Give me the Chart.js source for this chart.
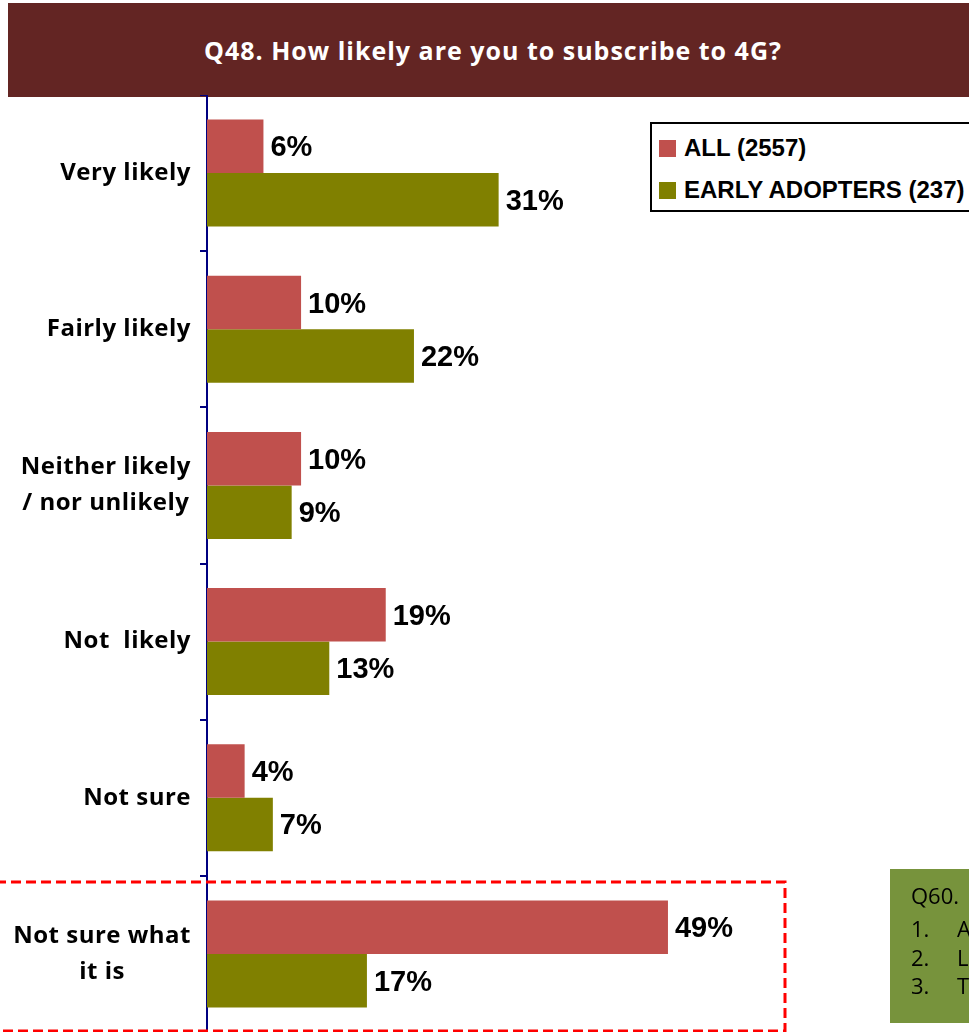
<!DOCTYPE html>
<html>
<head>
<meta charset="utf-8">
<script src="https://cdn.jsdelivr.net/npm/chart.js@4/dist/chart.umd.min.js"></script>
<style>
  html, body { margin: 0; padding: 0; background: #fff; }
  body { width: 969px; height: 1032px; position: relative; overflow: hidden; }
  #header {
    position: absolute; left: 8px; top: 3px; width: 980px; height: 94px;
    background: #632523; color: #fff;
    font: bold 25px "Open Sans", Lato, sans-serif; letter-spacing: 1px;
    display: flex; align-items: center; justify-content: center;
  }
  #header span { margin-right: 10px; }
  #chartBox { position: absolute; left: 0; top: 95px; width: 969px; height: 937px; }
  #legend {
    position: absolute; left: 650px; top: 122px; width: 340px; height: 86px;
    border: 2px solid #000; background: #fff;
    font: bold 24px "Liberation Sans", Arial, sans-serif; color: #000;
  }
  #legend .item { position: absolute; left: 7px; display: flex; align-items: center; white-space: nowrap; }
  #legend .sw { width: 17px; height: 17px; margin-right: 8px; }
  #note {
    position: absolute; left: 890px; top: 869px; width: 200px; height: 154px;
    background: #77933c; color: #000;
    font: 22px "Open Sans", Lato, sans-serif; overflow: hidden;
  }
  #note div { position: absolute; white-space: nowrap; line-height: 28px; }
  #dash { position: absolute; left: 0; top: 0; pointer-events: none; }
</style>
</head>
<body>
<div id="header"><span>Q48. How likely are you to subscribe to 4G?</span></div>
<div id="chartBox"><canvas id="likelyChart"></canvas></div>
<svg id="dash" width="969" height="1032">
  <rect x="-4" y="882" width="789" height="149" fill="none" stroke="#ff0000" stroke-width="3" stroke-dasharray="10 5"/>
</svg>
<div id="legend">
  <div class="item" style="top:10px"><div class="sw" style="background:#c0504d"></div>ALL (2557)</div>
  <div class="item" style="top:52px"><div class="sw" style="background:#808000"></div>EARLY ADOPTERS (237)</div>
</div>
<div id="note">
  <div style="left:21px;top:12px">Q60.</div>
  <div style="left:21px;top:45px">1.</div><div style="left:67px;top:45px">A</div>
  <div style="left:21px;top:74px">2.</div><div style="left:67px;top:74px">L</div>
  <div style="left:21px;top:102px">3.</div><div style="left:67px;top:102px">T</div>
</div>

<script>
// Respuestas y porcentajes por grupo
const categories = [
  ["Very likely"],
  ["Fairly likely"],
  ["Neither likely", "/ nor unlikely"],
  ["Not  likely"],
  ["Not sure"],
  ["Not sure what", "it is"]
];
const allValues = [6, 10, 10, 19, 4, 49];
const earlyValues = [31, 22, 9, 13, 7, 17];
const seriesNames = ["ALL (2557)", "EARLY ADOPTERS (237)"];

// Etiquetas de categoría: bloque alineado a la derecha, líneas centradas
const categoryLabels = {
  id: "categoryLabels",
  afterDraw(chart) {
    const ctx = chart.ctx;
    const scale = chart.scales.y;
    ctx.save();
    ctx.font = "bold 24px 'Open Sans', Lato, sans-serif";
    ctx.letterSpacing = "0.5px";
    ctx.fillStyle = "#000";
    ctx.textAlign = "center";
    ctx.textBaseline = "middle";
    const right = scale.right - 16;
    const lh = 36;
    categories.forEach((lines, i) => {
      const w = Math.max(...lines.map(l => ctx.measureText(l).width));
      const cy = scale.getPixelForValue(i);
      const y0 = cy - (lines.length - 1) * lh / 2;
      lines.forEach((l, k) => ctx.fillText(l, right - w / 2, y0 + k * lh));
    });
    ctx.restore();
  }
};

// Valores al final de cada barra
const valueLabels = {
  id: "valueLabels",
  afterDatasetsDraw(chart) {
    const ctx = chart.ctx;
    ctx.save();
    ctx.font = "bold 29px 'Liberation Sans', Arial, sans-serif";
    ctx.fillStyle = "#000";
    ctx.textAlign = "left";
    ctx.textBaseline = "middle";
    chart.data.datasets.forEach((ds, d) => {
      chart.getDatasetMeta(d).data.forEach((bar, i) => {
        ctx.fillText(ds.data[i] + "%", bar.x + 7, bar.y + 2);
      });
    });
    ctx.restore();
  }
};

new Chart(document.getElementById("likelyChart"), {
  type: "bar",
  data: {
    labels: categories.map(c => c.join(" ")),
    datasets: [
      { label: seriesNames[0], data: allValues, backgroundColor: "#c0504d" },
      { label: seriesNames[1], data: earlyValues, backgroundColor: "#808000" }
    ]
  },
  options: {
    indexAxis: "y",
    responsive: true,
    maintainAspectRatio: false,
    animation: false,
    layout: { padding: 0 },
    datasets: { bar: { categoryPercentage: 0.685, barPercentage: 1 } },
    plugins: { legend: { display: false }, tooltip: { enabled: false } },
    scales: {
      x: { display: false, min: 0, max: 81 },
      y: {
        offset: true,
        ticks: { display: false },
        grid: { drawOnChartArea: false, drawTicks: true, tickLength: 7, color: "#000080", lineWidth: 2, offset: true },
        border: { display: true, color: "#000080", width: 2 },
        afterFit(scale) { scale.width = 207; }
      }
    }
  },
  plugins: [categoryLabels, valueLabels]
});
</script>
</body>
</html>
